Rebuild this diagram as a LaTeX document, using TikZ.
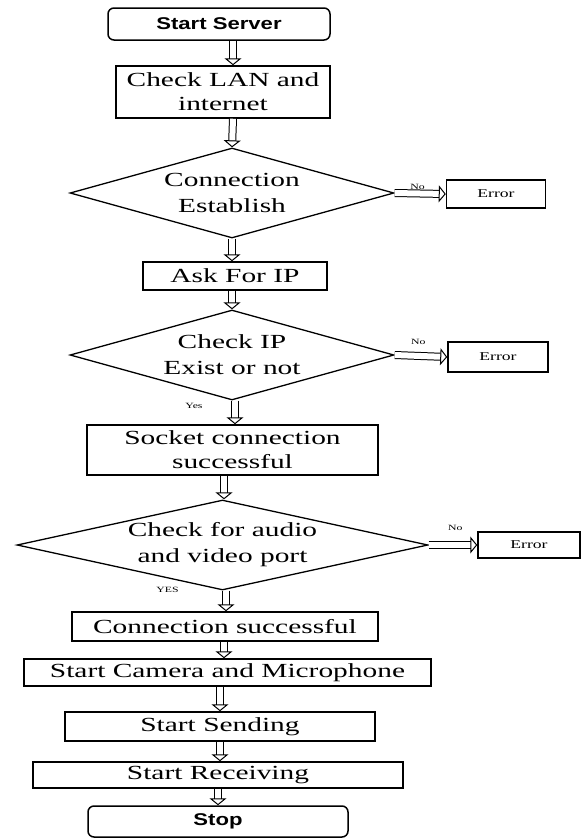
\documentclass[tikz,border=0pt]{standalone}
\usepackage{fontspec}
\setmainfont[FakeStretch=1.47]{Liberation Serif}
\newfontfamily\hdr[FakeStretch=1.3]{Liberation Sans}
\usetikzlibrary{shapes.geometric,arrows.meta}
\begin{document}
\begin{tikzpicture}[x=1pt,y=-1pt,
 box/.style={draw, line width=1.5pt, inner sep=0pt, font=\fontsize{20}{24}\selectfont, align=center},
 term/.style={box, rounded corners=6pt, font=\hdr\bfseries\fontsize{17}{20}\selectfont},
 dia/.style={draw, diamond, line width=1.3pt, inner sep=0pt},
 diatext/.style={font=\fontsize{20}{26}\selectfont, align=center, inner sep=0pt},
 err/.style={draw, line width=1.5pt, inner sep=0pt, font=\fontsize{12}{14}\selectfont},
 arr/.style={draw, line width=1pt, double distance=6pt, -{Triangle[open, line width=1pt, length=7pt, width=17pt]}},
 lbl/.style={font=\fontsize{8}{9}\selectfont, inner sep=0pt}]
\useasboundingbox (0,0) rectangle (581,838);

\node[term, minimum width=222, minimum height=32] (ss) at (219,24) {Start Server};
\node[box, minimum width=214, minimum height=52] (lan) at (223,92) {Check LAN and\\internet};
\node[dia, minimum width=324, minimum height=90] (d1) at (232,193) {};
\node[diatext] (t1) at (d1) {Connection\\Establish};
\node[err, minimum width=99, minimum height=28] (e1) at (496,194) {Error};
\node[box, minimum width=184, minimum height=28] (ask) at (235,276) {Ask For IP};
\node[dia, minimum width=324, minimum height=90] (d2) at (232,355) {};
\node[diatext] (t2) at (d2) {Check IP\\Exist or not};
\node[err, minimum width=100, minimum height=30] (e2) at (498,357) {Error};
\node[box, minimum width=291, minimum height=50] (sock) at (232.5,450) {Socket connection\\successful};
\node[dia, minimum width=411, minimum height=90] (d3) at (222.5,545) {};
\node[diatext] (t3) at (d3) {Check for audio\\and video port};
\node[err, minimum width=102, minimum height=26] (e3) at (529,545) {Error};
\node[box, minimum width=306, minimum height=29] (conn) at (225,626.5) {Connection successful};
\node[box, minimum width=407, minimum height=27] (cam) at (227.5,672.5) {Start Camera and Microphone};
\node[box, minimum width=310, minimum height=29] (send) at (220,726.5) {Start Sending};
\node[box, minimum width=370, minimum height=26] (recv) at (218,775) {Start Receiving};
\node[term, minimum width=260, minimum height=31] (stop) at (218,821.5) {Stop};

\draw[arr] ([xshift=14]ss.south) -- ([xshift=10]lan.north);
\draw[arr] ([xshift=10]lan.south) -- (d1.north);
\draw[arr] (d1.south) -- ([xshift=-3]ask.north);
\draw[arr] ([xshift=-3]ask.south) -- (d2.north);
\draw[arr] ([xshift=3]d2.south) -- ([xshift=2.5]sock.north);
\draw[arr] ([xshift=-8.5]sock.south) -- ([xshift=1.5]d3.north);
\draw[arr] ([xshift=3.5]d3.south) -- ([xshift=1]conn.north);
\draw[arr] ([xshift=-1]conn.south) -- ([xshift=-3.5]cam.north);
\draw[arr] ([xshift=-7.5]cam.south) -- (send.north);
\draw[arr] (send.south) -- ([xshift=2]recv.north);
\draw[arr] (recv.south) -- (stop.north);

\draw[arr] (d1.east) -- node[lbl, pos=0.45, yshift=7] (n1) {No} (e1.west);
\draw[arr] (d2.east) -- node[lbl, pos=0.45, yshift=14] (n2) {No} (e2.west);
\draw[arr] (d3.east) -- node[lbl, pos=0.55, yshift=17] (n3) {No} (e3.west);
\node[lbl] (y2) at ([xshift=-38,yshift=-5]d2.south) {Yes};
\node[lbl] (y3) at ([xshift=-55,yshift=1]d3.south) {YES};
\end{tikzpicture}
\end{document}
